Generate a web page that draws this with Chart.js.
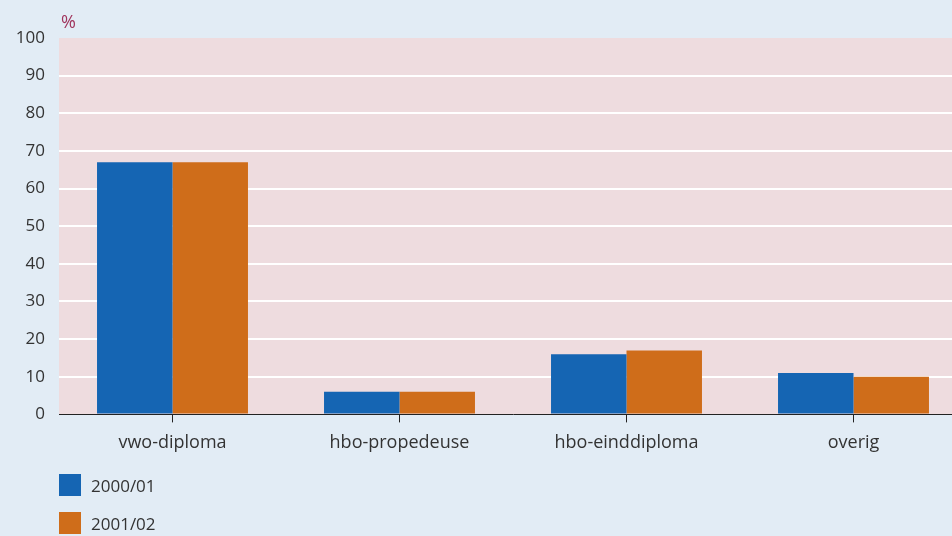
<!DOCTYPE html>
<html>
<head>
<meta charset="utf-8">
<script src="https://cdn.jsdelivr.net/npm/chart.js@4"></script>
<style>
  html, body { margin: 0; padding: 0; background: #e2ecf5; overflow: hidden; }
  #wrap { position: relative; width: 952px; height: 536px; overflow: hidden; }
  #legend { position: absolute; left: 59px; top: 474px; font: 17px "Open Sans", sans-serif; color: #333; }
  #legend div { display: flex; align-items: center; height: 22px; margin-bottom: 16px; }
  #legend span.box { display: inline-block; width: 22px; height: 22px; margin-right: 10px; }
</style>
</head>
<body>
<div id="wrap">
  <!-- canvas is a bit wider than the page: the plot runs past the right edge, like the original -->
  <canvas id="myChart" width="967" height="536"></canvas>
  <div id="legend"></div>
</div>
<script>
// categories and series
let labels = ['vwo-diploma', 'hbo-propedeuse', 'hbo-einddiploma', 'overig'];
let series1 = [67, 6, 16, 11];
let series2 = [67, 6, 17, 10];
let seriesNames = ['2000/01', '2001/02'];
let colors = ['#1565b3', '#cf6d1a'];
let yTicks = [0, 10, 20, 30, 40, 50, 60, 70, 80, 90, 100];

// pink plot background + the % label
const plotBg = {
    id: 'plotBg',
    beforeDraw(chart) {
        const {ctx, chartArea: a} = chart;
        ctx.save();
        ctx.fillStyle = '#eedcdf';
        ctx.fillRect(a.left, a.top, a.right - a.left, a.bottom - a.top);
        ctx.fillStyle = '#a0345c';
        ctx.font = '18px "Open Sans", sans-serif';
        ctx.textBaseline = 'bottom';
        ctx.fillText('%', a.left + 2, a.top - 6);
        ctx.restore();
    }
};

let ctx = document.getElementById('myChart');
let mychart = new Chart(ctx, {
    type: 'bar',
    data: {
        labels: labels,
        datasets: [{
            label: seriesNames[0],
            data: series1,
            backgroundColor: colors[0]
        }, {
            label: seriesNames[1],
            data: series2,
            backgroundColor: colors[1]
        }]
    },
    options: {
        responsive: false,
        animation: false,
        layout: { padding: { top: 38, right: 0, bottom: 72, left: 0 } },
        datasets: {
            bar: { categoryPercentage: 0.665, barPercentage: 1.0 }
        },
        plugins: {
            legend: { display: false },
            tooltip: { enabled: false }
        },
        scales: {
            x: {
                grid: {
                    offset: false,
                    drawOnChartArea: false,
                    drawTicks: true,
                    tickLength: 8,
                    color: '#222'
                },
                border: { color: '#222', width: 1 },
                ticks: {
                    color: '#333',
                    font: { family: '"Open Sans", sans-serif', size: 18 },
                    padding: 10
                }
            },
            y: {
                min: 0,
                max: 100,
                afterBuildTicks(axis) {
                    axis.ticks = yTicks.map(v => ({ value: v }));
                },
                afterFit(axis) { axis.width = 59; },
                grid: {
                    color: ctx => ctx.tick.value === 0 || ctx.tick.value === 100 ? 'rgba(0,0,0,0)' : '#ffffff',
                    lineWidth: 2,
                    drawTicks: false
                },
                border: { display: false },
                ticks: {
                    color: '#333',
                    font: { family: '"Open Sans", sans-serif', size: 17 },
                    padding: 14
                }
            }
        }
    },
    plugins: [plotBg]
});

// vertical legend below the chart
let legend = document.getElementById('legend');
seriesNames.forEach((name, i) => {
    let row = document.createElement('div');
    row.innerHTML = '<span class="box" style="background:' + colors[i] + '"></span>' + name;
    legend.appendChild(row);
});
</script>
</body>
</html>
